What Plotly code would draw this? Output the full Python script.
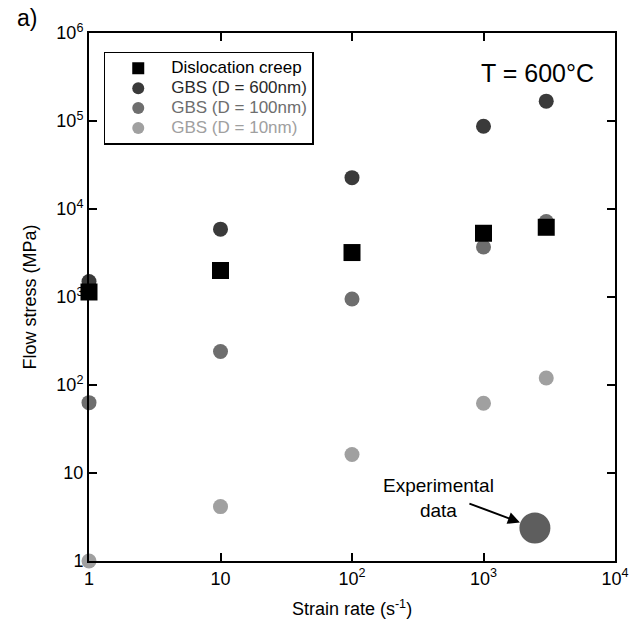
import math
import plotly.graph_objects as go

strain = [1, 10, 100, 1000, 3000]
disloc = [1.14e3, 2.0e3, 3.2e3, 5.3e3, 6.2e3]
gbs600 = [1.5e3, 5.9e3, 2.27e4, 8.7e4, 1.68e5]
gbs100 = [63, 240, 950, 3.7e3, 7.2e3]
gbs10 = [1.0, 4.15, 16.2, 62, 120]
exp_x = [2460]
exp_y = [2.37]

xtickvals = [1, 10, 100, 1000, 10000]
xticktext = ["1", "10", "10<sup>2</sup>", "10<sup>3</sup>", "10<sup>4</sup>"]
ytickvals = [1, 10, 100, 1e3, 1e4, 1e5, 1e6]
yticktext = ["1", "10", "10<sup>2</sup>", "10<sup>3</sup>", "10<sup>4</sup>", "10<sup>5</sup>", "10<sup>6</sup>"]

FONT = "Arial"
c600, c100, c10, cexp = "#3a3a3a", "#6e6e6e", "#a0a0a0", "#5e5e5e"

def lname(text, color):
    return "<span style='font-size:17px;color:%s'>%s</span>" % (color, text)

fig = go.Figure()
fig.add_trace(go.Scatter(x=strain, y=gbs600, mode="markers", name=lname("GBS (D = 600nm)", "#2a2a2a"),
                         marker=dict(symbol="circle", size=15, color=c600), cliponaxis=False, legendrank=2))
fig.add_trace(go.Scatter(x=strain, y=gbs100, mode="markers", name=lname("GBS (D = 100nm)", c100),
                         marker=dict(symbol="circle", size=15, color=c100), cliponaxis=False, legendrank=3))
fig.add_trace(go.Scatter(x=strain, y=gbs10, mode="markers", name=lname("GBS (D = 10nm)", c10),
                         marker=dict(symbol="circle", size=15, color=c10), cliponaxis=False, legendrank=4))
fig.add_trace(go.Scatter(x=strain, y=disloc, mode="markers", name=lname("Dislocation creep", "black"),
                         marker=dict(symbol="square", size=17, color="black"), cliponaxis=False, legendrank=1))
fig.add_trace(go.Scatter(x=exp_x, y=exp_y, mode="markers", showlegend=False,
                         marker=dict(symbol="circle", size=31, color=cexp), cliponaxis=False))

fig.update_xaxes(type="log", range=[0, 4], tickvals=xtickvals, ticktext=xticktext,
                 ticks="inside", ticklen=8, tickwidth=2, tickcolor="black",
                 showline=True, linecolor="black", linewidth=2, mirror="ticks", gridcolor="white",
                 tickfont=dict(size=18, color="black"),
                 title=dict(text="Strain rate (s<sup>-1</sup>)", font=dict(size=18, color="black")))
fig.update_yaxes(type="log", range=[0, 6], tickvals=ytickvals, ticktext=yticktext,
                 ticks="inside", ticklen=8, tickwidth=2, tickcolor="black",
                 showline=True, linecolor="black", linewidth=2, mirror="ticks", gridcolor="white",
                 tickfont=dict(size=18, color="black"),
                 title=dict(text="Flow stress (MPa)", font=dict(size=18, color="black")))

L, R, T, B = 89, 17, 33, 61
W, H = 641, 628
pw, ph = W - L - R, H - T - B
def px(x): return (x - L) / pw
def py(y): return (H - B - y) / ph

# log axes: annotation positions are given in log10 units
fig.add_annotation(x=math.log10(exp_x[0]), y=math.log10(exp_y[0]), xref="x", yref="y", text="",
                   showarrow=True, arrowhead=2, arrowsize=1.2, arrowwidth=2, arrowcolor="black",
                   standoff=16, ax=-67, ay=-25)
fig.add_annotation(x=px(444), y=py(503), xref="paper", yref="paper", xanchor="center", yanchor="middle",
                   text="Experimental<br>data", showarrow=False,
                   font=dict(size=19, color="black"))
fig.add_annotation(x=px(545), y=py(73), xref="paper", yref="paper", xanchor="center", yanchor="middle",
                   text="T = 600°C", showarrow=False, font=dict(size=25, color="black"))
fig.add_annotation(x=px(26), y=py(18), xref="paper", yref="paper", xanchor="center", yanchor="middle",
                   text="a)", showarrow=False, font=dict(size=23, color="black"))

fig.update_layout(
    width=W, height=H, margin=dict(l=L, r=R, t=T, b=B),
    paper_bgcolor="white", plot_bgcolor="white",
    font=dict(family=FONT, size=16, color="black"),
    legend=dict(x=px(104), y=py(52), xanchor="left", yanchor="top",
                bordercolor="black", borderwidth=1.5, bgcolor="white",
                font=dict(size=13, color="#2a2a2a"),
                itemsizing="constant", itemwidth=56, tracegroupgap=0),
    showlegend=True,
)
fig.write_html("out.html")
